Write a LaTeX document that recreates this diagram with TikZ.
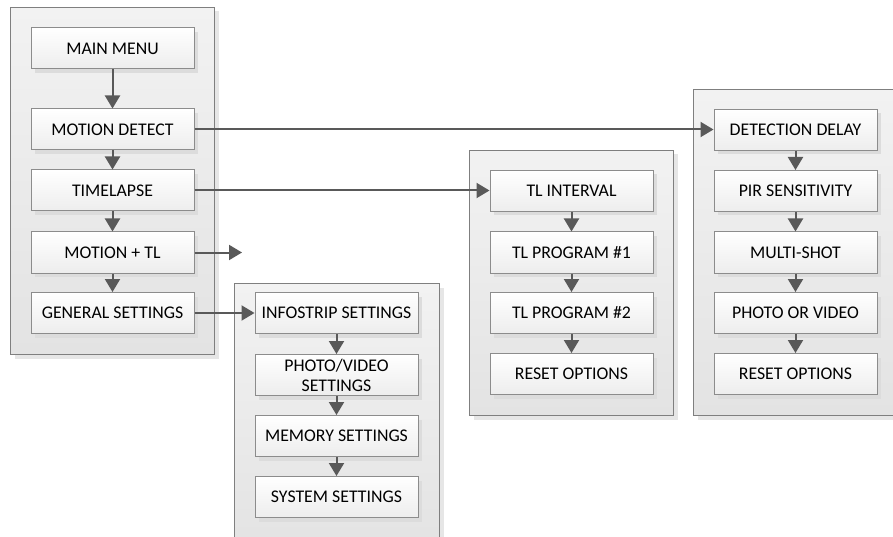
\documentclass[tikz,border=0pt]{standalone}
\usepackage{fontspec}
\setmainfont{Carlito}
\usetikzlibrary{arrows.meta,shadows}
\definecolor{arrgray}{HTML}{595959}
\definecolor{panelborder}{HTML}{7F7F7F}
\definecolor{boxborder}{HTML}{8C8C8C}
\definecolor{paneltop}{HTML}{F2F2F2}
\definecolor{panelbot}{HTML}{E3E3E3}
\definecolor{boxbot}{HTML}{EDEDED}
\definecolor{shadowgray}{HTML}{DCDCDC}
\definecolor{pshadow}{HTML}{E6E6E6}
\tikzset{
  panel/.style={draw=panelborder, line width=1pt, top color=paneltop, bottom color=panelbot,
    anchor=north west, inner sep=0pt,
    drop shadow={shadow xshift=4pt, shadow yshift=-4pt, fill=pshadow, opacity=1}},
  menubox/.style={draw=boxborder, line width=1pt, top color=white, bottom color=boxbot,
    minimum width=163pt, minimum height=41pt, inner sep=0pt, align=center,
    font=\fontsize{17.8}{20}\selectfont, text=black,
    drop shadow={shadow xshift=4pt, shadow yshift=-4pt, fill=shadowgray, opacity=1}},
  flow/.style={draw=arrgray, line width=2pt, -{Triangle[length=13pt,width=15pt]}, arrgray}
}
\begin{document}
\begin{tikzpicture}[x=1pt,y=-1pt]
\useasboundingbox (0,0) rectangle (893,537);
\clip (0,0) rectangle (893,537);
% panels
\node[panel, minimum width=204pt, minimum height=347pt] (p1) at (10,7) {};
\node[panel, minimum width=205pt, minimum height=270pt] (p2) at (234,283) {};
\node[panel, minimum width=204pt, minimum height=265pt] (p3) at (469,150) {};
\node[panel, minimum width=210pt, minimum height=326pt] (p4) at (693,89) {};
% column 1
\node[menubox] (mm)  at (112.5,48.5) {MAIN MENU};
\node[menubox] (md)  at (112.5,129.5) {MOTION DETECT};
\node[menubox] (tla) at (112.5,190.5) {TIMELAPSE};
\node[menubox] (mtl) at (112.5,252.5) {MOTION + TL};
\node[menubox] (gs)  at (112.5,313) {GENERAL SETTINGS};
% column 2
\node[menubox] (inf) at (336.5,313) {INFOSTRIP SETTINGS};
\node[menubox] (pv)  at (336.5,375) {PHOTO/VIDEO\\SETTINGS};
\node[menubox] (mem) at (336.5,436) {MEMORY SETTINGS};
\node[menubox] (sys) at (336.5,497) {SYSTEM SETTINGS};
% column 3
\node[menubox] (tli) at (571.5,191) {TL INTERVAL};
\node[menubox] (tp1) at (571.5,252.5) {TL PROGRAM \#1};
\node[menubox] (tp2) at (571.5,313) {TL PROGRAM \#2};
\node[menubox] (ro1) at (571.5,374) {RESET OPTIONS};
% column 4
\node[menubox] (dd)  at (795.5,130) {DETECTION DELAY};
\node[menubox] (pir) at (795.5,191) {PIR SENSITIVITY};
\node[menubox] (ms)  at (795.5,252.5) {MULTI-SHOT};
\node[menubox] (pov) at (795.5,313) {PHOTO OR VIDEO};
\node[menubox] (ro2) at (795.5,374) {RESET OPTIONS};
\coordinate (mtlend) at (242,252.5);
% arrows
\draw[flow] (mm) -- (md);
\draw[flow] (md) -- (tla);
\draw[flow] (tla) -- (mtl);
\draw[flow] (mtl) -- (gs);
\draw[flow] (inf) -- (pv);
\draw[flow] (pv) -- (mem);
\draw[flow] (mem) -- (sys);
\draw[flow] (tli) -- (tp1);
\draw[flow] (tp1) -- (tp2);
\draw[flow] (tp2) -- (ro1);
\draw[flow] (dd) -- (pir);
\draw[flow] (pir) -- (ms);
\draw[flow] (ms) -- (pov);
\draw[flow] (pov) -- (ro2);
\draw[flow] (md.east) -- (dd.west |- md.east);
\draw[flow] (tla.east) -- (tli.west |- tla.east);
\draw[flow] (mtl.east) -- (mtlend);
\draw[flow] (gs.east) -- (inf.west);
\end{tikzpicture}
\end{document}
